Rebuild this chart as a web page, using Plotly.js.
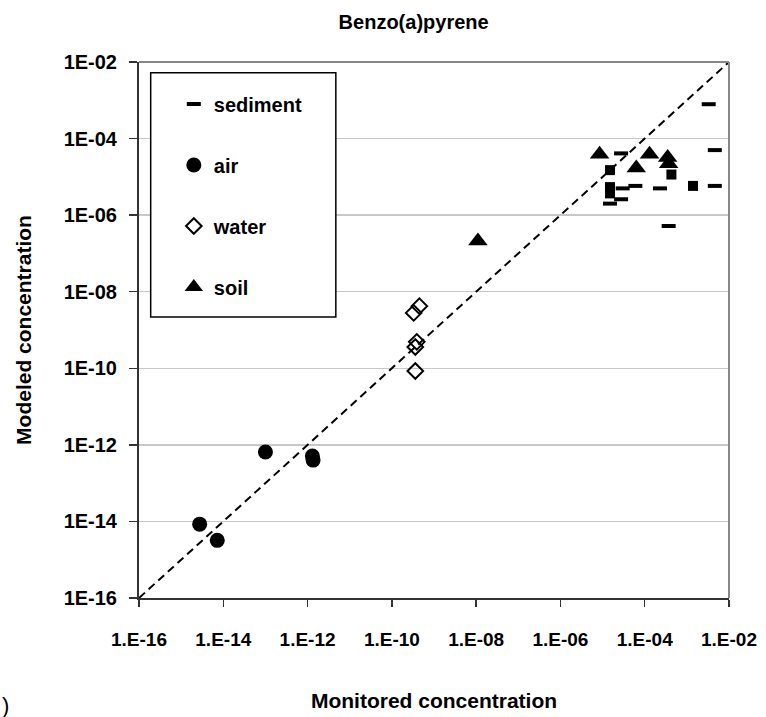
<!DOCTYPE html>
<html>
<head>
<meta charset="utf-8">
<script src="https://cdn.plot.ly/plotly-3.0.1.min.js"></script>
<style>html,body{margin:0;padding:0;background:#fff;}#chart{width:766px;height:717px;}</style>
</head>
<body>
<div id="chart"></div>
<script>
// ---- data (monitored x, modeled y) ----
const sedimentX = [3.3e-3, 4.6e-3, 2.75e-5, 3.0e-5, 6.0e-5, 2.3e-4, 4.6e-3, 1.5e-5, 2.75e-5, 3.7e-4];
const sedimentY = [7.9e-4, 5.0e-5, 4.1e-5, 5.0e-6, 5.8e-6, 5.0e-6, 5.8e-6, 2.0e-6, 2.6e-6, 5.2e-7];
const sedimentSqX = [1.5e-5, 1.5e-5, 1.5e-5, 4.3e-4, 1.4e-3];
const sedimentSqY = [1.5e-5, 5.4e-6, 3.7e-6, 1.15e-5, 5.8e-6];
const airX = [2.75e-15, 7.2e-15, 1.0e-13, 1.3e-12, 1.35e-12];
const airY = [8.5e-15, 3.2e-15, 6.5e-13, 5.1e-13, 4.0e-13];
const waterX = [4.5e-10, 3.3e-10, 3.9e-10, 3.6e-10, 3.6e-10];
const waterY = [4.2e-9, 2.8e-9, 4.9e-10, 3.6e-10, 8.5e-11];
const soilX = [1.1e-8, 8.5e-6, 6.3e-5, 1.3e-4, 3.5e-4, 3.7e-4];
const soilY = [2.1e-7, 3.9e-5, 1.7e-5, 3.9e-5, 3.2e-5, 2.2e-5];
const lineXY = [1e-16, 1e-2];
const tickVals = [1e-16, 1e-14, 1e-12, 1e-10, 1e-8, 1e-6, 1e-4, 1e-2];
const xTickText = ["1.E-16", "1.E-14", "1.E-12", "1.E-10", "1.E-08", "1.E-06", "1.E-04", "1.E-02"];
const yTickText = ["1E-16", "1E-14", "1E-12", "1E-10", "1E-08", "1E-06", "1E-04", "1E-02"];

const FONT = "Liberation Sans, Arial, sans-serif";
const bold = s => "<b>" + s + "</b>";

const traces = [
  {x: lineXY, y: lineXY, mode: "lines", line: {color: "#000", width: 2, dash: "8px,5px"},
   showlegend: false, hoverinfo: "skip"},
  {x: sedimentSqX, y: sedimentSqY, mode: "markers", name: "sediment (sq)", showlegend: false,
   marker: {symbol: "square", size: 10, color: "#000"}},
  {x: sedimentX, y: sedimentY, mode: "markers", name: bold("sediment"), legendgroup: "a",
   marker: {symbol: "line-ew", size: 10, color: "#000", line: {color: "#000", width: 4}}},
  {x: airX, y: airY, mode: "markers", name: bold("air"), legendgroup: "b",
   marker: {symbol: "circle", size: 15, color: "#000"}},
  {x: waterX, y: waterY, mode: "markers", name: bold("water"), legendgroup: "c",
   marker: {symbol: "diamond-open", size: 12, color: "#000", line: {color: "#000", width: 2}}},
  {x: soilX, y: soilY, mode: "markers", name: bold("soil"), legendgroup: "d",
   marker: {symbol: "triangle-up", size: 17, color: "#000"}}
];

const layout = {
  width: 766, height: 717,
  margin: {l: 139, r: 37, t: 62, b: 119},
  paper_bgcolor: "#fff", plot_bgcolor: "#fff",
  font: {family: FONT, color: "#000", size: 19},
  title: {text: bold("Benzo(a)pyrene"), font: {family: FONT, size: 20, color: "#000"},
          x: 0.54, xanchor: "center", y: 0.969, yanchor: "middle", yref: "container"},
  xaxis: {type: "log", range: [-16, -2], tickvals: tickVals, ticktext: xTickText.map(bold),
          showgrid: false, zeroline: false, ticks: "outside", ticklen: 7, tickwidth: 1.5, tickcolor: "#333",
          showline: true, linecolor: "#333", linewidth: 2, ticklabelstandoff: 16,
          tickfont: {family: FONT, size: 19, color: "#000"},
          title: {text: bold("Monitored concentration"), font: {family: FONT, size: 21, color: "#000"}, standoff: 45}},
  yaxis: {type: "log", range: [-16, -2], tickvals: tickVals, ticktext: yTickText.map(bold),
          showgrid: true, gridcolor: "#c8c8c8", gridwidth: 1.5, zeroline: false,
          ticks: "outside", ticklen: 8, tickwidth: 1.5, tickcolor: "#333",
          showline: true, linecolor: "#333", linewidth: 2, ticklabelstandoff: 8,
          tickfont: {family: FONT, size: 20, color: "#000"},
          title: {text: bold("Modeled concentration"), font: {family: FONT, size: 21, color: "#000"}, standoff: 26}},
  showlegend: true,
  legend: {x: 0.059, xanchor: "left", y: 0.958, yanchor: "top", bgcolor: "rgba(0,0,0,0)", borderwidth: 0,
           traceorder: "grouped", tracegroupgap: 32, font: {family: FONT, size: 20, color: "#000"}},
  shapes: [
    {type: "rect", xref: "paper", yref: "paper", x0: (150.7-139)/590.5, x1: (336-139)/590.5,
     y0: (598-317)/536, y1: (598-72.7)/536, fillcolor: "#fff", line: {color: "#000", width: 1.5}, layer: "above"},
    {type: "line", xref: "paper", yref: "paper", x0: 0, x1: 1, y0: 1, y1: 1, line: {color: "#888", width: 2}},
    {type: "line", xref: "paper", yref: "paper", x0: 1, x1: 1, y0: 0, y1: 1, line: {color: "#888", width: 2}}
  ],
  annotations: [
    {text: ")", xref: "paper", yref: "paper", x: -139/590.5 - 0.001, y: -107/536, xanchor: "left", yanchor: "middle",
     showarrow: false, font: {family: FONT, size: 22, color: "#000"}}
  ]
};

Plotly.newPlot("chart", traces, layout, {displayModeBar: false, staticPlot: true});
</script>
</body>
</html>
